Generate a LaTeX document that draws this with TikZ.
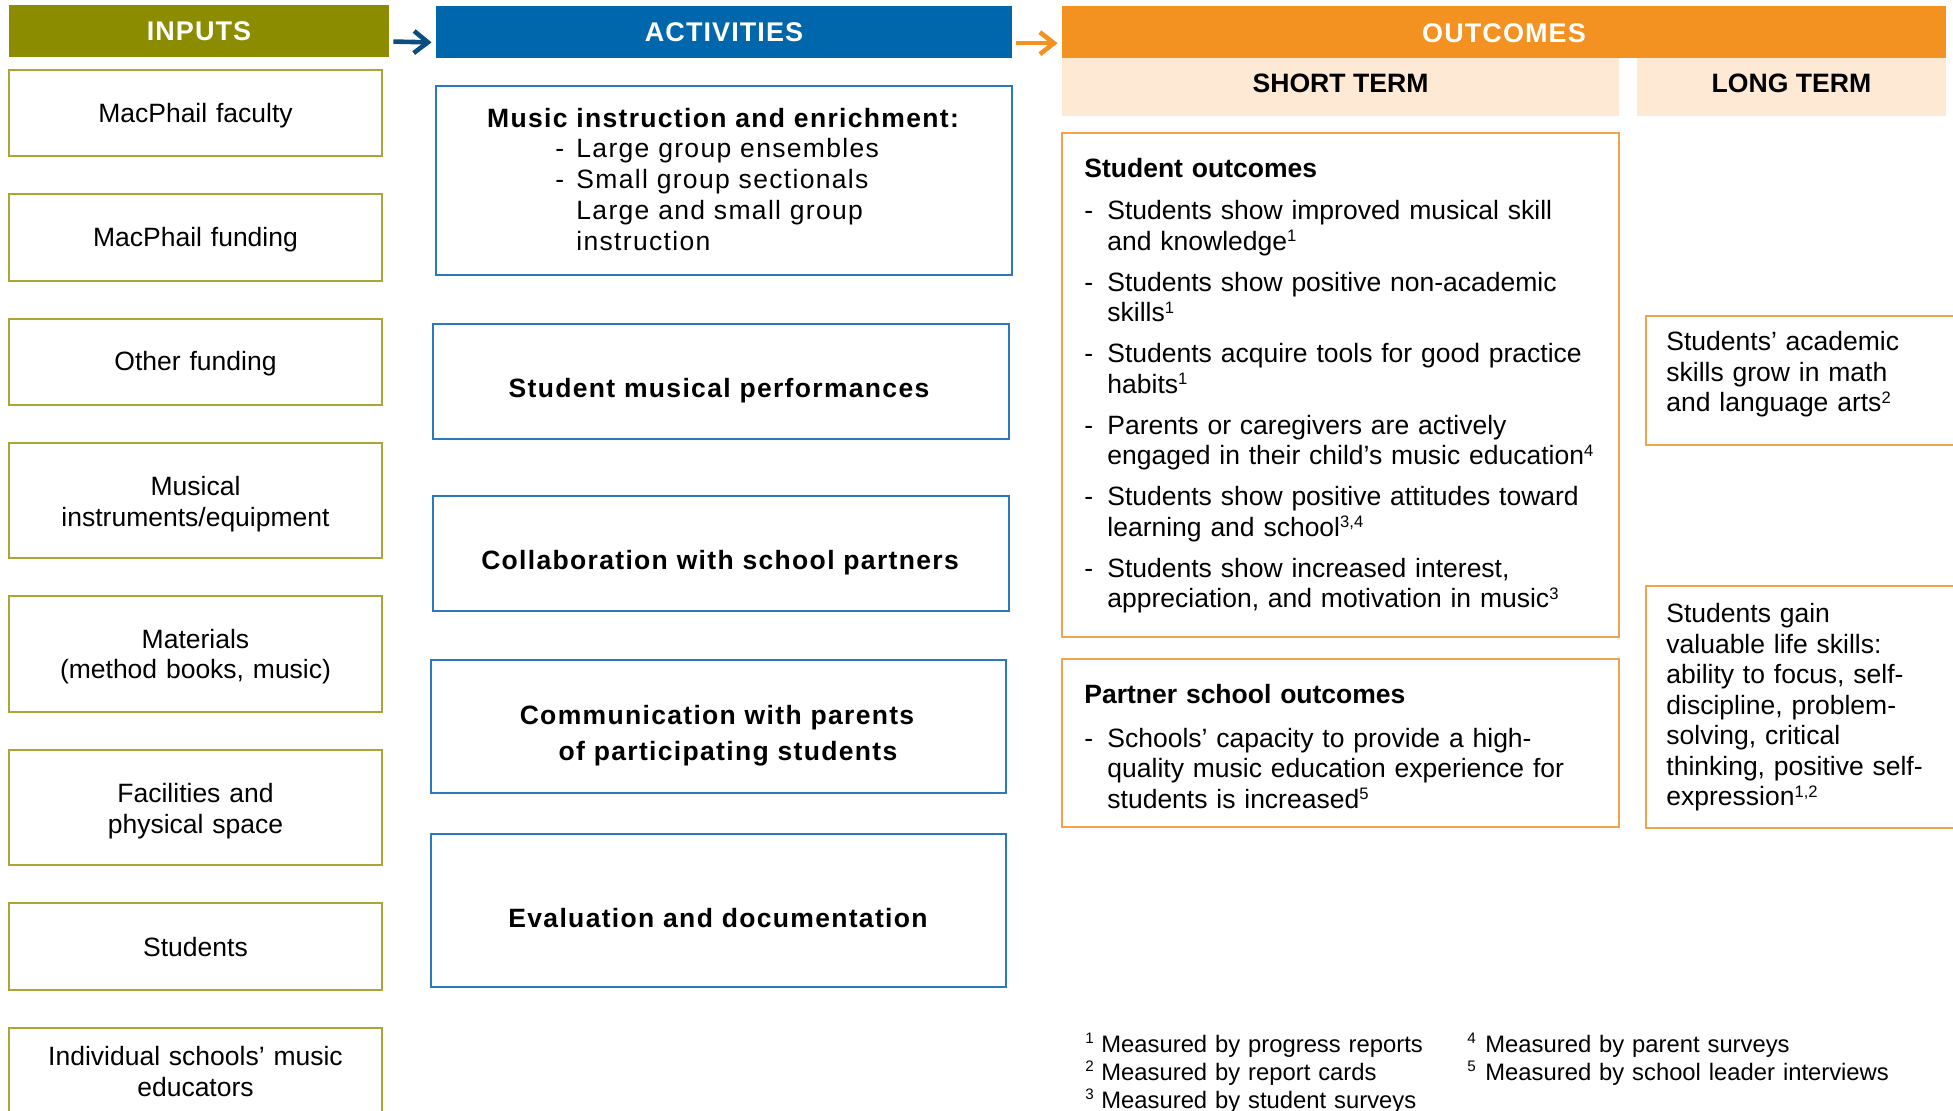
\documentclass[tikz,border=0pt]{standalone}
\usepackage{fontspec}
\setmainfont{Liberation Sans}
\newfontfamily\trackedfont[LetterSpace=5]{Liberation Sans}
\newfontfamily\headfont[LetterSpace=4]{Liberation Sans}
\usetikzlibrary{arrows.meta,fit,calc}

\definecolor{inolive}{HTML}{8C8C00}
\definecolor{inborder}{HTML}{A9A536}
\definecolor{actblue}{HTML}{0067AC}
\definecolor{actborder}{HTML}{2C78BE}
\definecolor{outorange}{HTML}{F39121}
\definecolor{outborder}{HTML}{F5A24E}
\definecolor{peach}{HTML}{FDE9D4}
\definecolor{arrowblue}{HTML}{0A4F80}

% superscript marks
\newcommand\sups[1]{\raisebox{4.4pt}{\fontsize{8.3pt}{8pt}\selectfont #1}}
\newcommand\fnmark[1]{\raisebox{4.2pt}{\fontsize{7.6pt}{7pt}\selectfont #1}}
\newcommand\dashitem{\makebox[11.5pt][l]{-}}
\newcommand\contline{\hspace*{11.5pt}}
\newcommand\actdash{\makebox[10.5pt][l]{-}}
\newcommand\actcont{\hspace*{10.5pt}}

\begin{document}
\begin{tikzpicture}[x=0.5pt,y=-0.5pt,
  headbar/.style={draw=none,inner sep=0pt},
  headlabel/.style={inner sep=0pt,anchor=center,text=white,
    font=\headfont\bfseries\fontsize{13.5pt}{14pt}\selectfont},
  band/.style={fill=peach,draw=none,inner sep=0pt},
  bandlabel/.style={inner sep=0pt,anchor=center,
    font=\bfseries\fontsize{13.3pt}{14pt}\selectfont},
  inbox/.style={draw=inborder,line width=1pt,inner sep=0pt},
  actbox/.style={draw=actborder,line width=1pt,inner sep=0pt},
  outbox/.style={draw=outborder,line width=1pt,inner sep=0pt},
  intext/.style={inner sep=0pt,anchor=base,text width=180pt,align=center,
    font=\fontsize{13.25pt}{15.5pt}\selectfont},
  acttext/.style={inner sep=0pt,anchor=base,text width=280pt,align=center,
    font=\trackedfont\bfseries\fontsize{13.25pt}{18pt}\selectfont},
  listtext/.style={inner sep=0pt,anchor=base west,text width=220pt,align=left,
    font=\trackedfont\fontsize{13.25pt}{15.4pt}\selectfont},
  outtext/.style={inner sep=0pt,anchor=base west,text width=267pt,align=left,
    font=\fontsize{13.25pt}{15.25pt}\selectfont},
  fntext/.style={inner sep=0pt,anchor=base west,text width=260pt,align=left,
    font=\fontsize{11.9pt}{14pt}\selectfont},
  flowarrow/.style={line width=2.3pt,shorten <=2pt,shorten >=2pt,
    -{Straight Barb[length=7pt,width=11pt]}}]

\useasboundingbox (0,0) rectangle (1953,1111);
\clip (0,0) rectangle (1953,1111);

% column headers
\node[headbar,fill=inolive,fit={(9,5)(389,57)}] (inhead) {};
\node[headbar,fill=actblue,fit={(436,6)(1012,58)}] (acthead) {};
\node[headbar,fill=outorange,fit={(1062,6)(1946,58)}] (outhead) {};
\node[band,fit={(1062,58)(1619,116)}] (shortband) {};
\node[band,fit={(1637,58)(1946,116)}] (longband) {};

\node[headlabel] (inlabel) at (inhead.center) {INPUTS};
\node[headlabel] (actlabel) at (acthead.center) {ACTIVITIES};
\node[headlabel] (outlabel) at ([yshift=-0.5pt]outhead.center) {OUTCOMES};
\node[bandlabel] (shortlabel) at ([yshift=1.75pt]shortband.center) {SHORT TERM};
\node[bandlabel] (longlabel) at ([yshift=1.75pt]longband.center) {LONG TERM};

% arrows between the column headers
\draw[flowarrow,draw=arrowblue] ([yshift=-5.25pt]inhead.east) -- ([yshift=-5.25pt]acthead.west);
\draw[flowarrow,draw=outorange] ([yshift=-5.6pt]acthead.east) -- ([yshift=-5.6pt]outhead.west);

% inputs
\node[inbox,fit={(9,70)(382,156)}] (in1) {};
\node[inbox,fit={(9,194)(382,281)}] (in2) {};
\node[inbox,fit={(9,319)(382,405)}] (in3) {};
\node[inbox,fit={(9,443)(382,558)}] (in4) {};
\node[inbox,fit={(9,596)(382,712)}] (in5) {};
\node[inbox,fit={(9,750)(382,865)}] (in6) {};
\node[inbox,fit={(9,903)(382,990)}] (in7) {};
\node[inbox,fit={(9,1028)(382,1140)}] (in8) {};

\node[intext] (in1t) at (195.5,123) {MacPhail faculty};
\node[intext] (in2t) at (195.5,247) {MacPhail funding};
\node[intext] (in3t) at (195.5,371) {Other funding};
\node[intext] (in4t) at (195.5,496) {Musical\\instruments/equipment};
\node[intext] (in5t) at (195.5,648) {Materials\\(method books, music)};
\node[intext] (in6t) at (195.5,802) {Facilities and\\physical space};
\node[intext] (in7t) at (195.5,956) {Students};
\node[intext] (in8t) at (195.5,1065) {Individual schools’ music\\educators};

% activities
\node[actbox,fit={(436,86)(1012,275)}] (act1) {};
\node[actbox,fit={(433,324)(1009,439)}] (act2) {};
\node[actbox,fit={(433,496)(1009,611)}] (act3) {};
\node[actbox,fit={(431,660)(1006,793)}] (act4) {};
\node[actbox,fit={(431,834)(1006,987)}] (act5) {};

\node[acttext] (act1t) at (723,128) {Music instruction and enrichment:};
\node[listtext] (act1l) at (555,158) {\actdash Large group ensembles\\
  \actdash Small group sectionals\\
  \actcont Large and small group\\
  \actcont instruction};
\node[acttext] (act2t) at (719,398) {Student musical performances};
\node[acttext] (act3t) at (720,570) {Collaboration with school partners};
\node[acttext] (act4t) at (717,724) {Communication with parents\\\hspace*{11pt}of participating students};
\node[acttext] (act5t) at (718,927) {Evaluation and documentation};

% short-term outcomes
\node[outbox,fit={(1062,133)(1619,637)}] (so) {};
\node[outbox,fit={(1062,659)(1619,827)}] (ps) {};

\node[outtext] (sot) at (1084,178) {{\bfseries Student outcomes}\\[5.75pt]
  \dashitem Students show improved musical skill\\
  \contline and knowledge\sups{1}\\[5.25pt]
  \dashitem Students show positive non-academic\\
  \contline skills\sups{1}\\[5.25pt]
  \dashitem Students acquire tools for good practice\\
  \contline habits\sups{1}\\[5.25pt]
  \dashitem Parents or caregivers are actively\\
  \contline engaged in their child’s music education\sups{4}\\[5.25pt]
  \dashitem Students show positive attitudes toward\\
  \contline learning and school\sups{3,4}\\[5.25pt]
  \dashitem Students show increased interest,\\
  \contline appreciation, and motivation in music\sups{3}};

\node[outtext] (pst) at (1084,704) {{\bfseries Partner school outcomes}\\[6.25pt]
  \dashitem Schools’ capacity to provide a high-\\
  \contline quality music education experience for\\
  \contline students is increased\sups{5}};

% long-term outcomes
\node[outbox,fit={(1646,316)(1962,445)}] (lt1) {};
\node[outbox,fit={(1646,586)(1962,828)}] (lt2) {};

\node[outtext,text width=150pt] (lt1t) at (1666,351) {Students’ academic\\
  skills grow in math\\
  and language arts\sups{2}};
\node[outtext,text width=150pt] (lt2t) at (1666,623) {Students gain\\
  valuable life skills:\\
  ability to focus, self-\\
  discipline, problem-\\
  solving, critical\\
  thinking, positive self-\\
  expression\sups{1,2}};

% measurement notes
\node[fntext] (fn1) at (1085,1052) {\makebox[8pt][l]{\fnmark{1}}Measured by progress reports\\
  \makebox[8pt][l]{\fnmark{2}}Measured by report cards\\
  \makebox[8pt][l]{\fnmark{3}}Measured by student surveys};
\node[fntext] (fn2) at (1467,1052) {\makebox[9pt][l]{\fnmark{4}}Measured by parent surveys\\
  \makebox[9pt][l]{\fnmark{5}}Measured by school leader interviews};

\end{tikzpicture}
\end{document}
